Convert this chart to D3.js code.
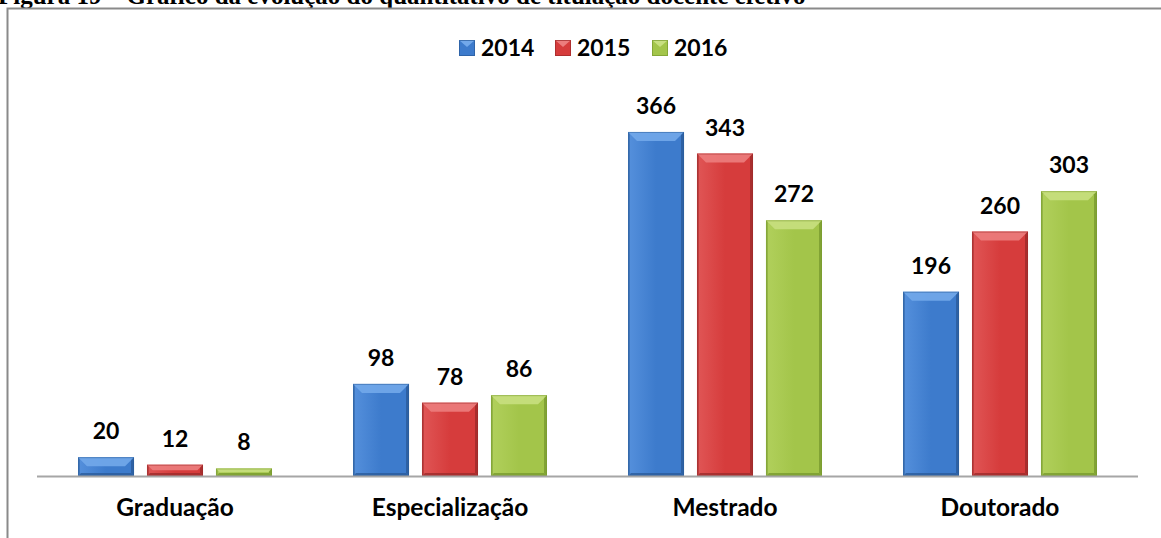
<!DOCTYPE html>
<html><head><meta charset="utf-8">
<script src="https://cdn.jsdelivr.net/npm/d3@7"></script>
<style>body{margin:0;background:#fff;} svg{display:block;}</style>
</head><body>
<svg id="c" width="1161" height="538"></svg>
<script>
const titleText = "Figura 19 – Gráfico da evolução do quantitativo de titulação docente efetivo";
const categories = ["Graduação", "Especialização", "Mestrado", "Doutorado"];
const seriesNames = ["2014", "2015", "2016"];
const values2014 = [20, 98, 366, 196];
const values2015 = [12, 78, 343, 260];
const values2016 = [8, 86, 272, 303];
const seriesValues = [values2014, values2015, values2016];
const palette = [
  {main:"#3d7bcc", light:"#72a8ea", dark:"#2a5b9a", side:"#5590dc"},
  {main:"#d63c3c", light:"#ec7d7d", dark:"#9c2a2a", side:"#e05656"},
  {main:"#a3c54a", light:"#c8df80", dark:"#789a2e", side:"#b1d05c"}
];

const svg = d3.select("#c");
const FONT = "Lato, 'Open Sans', sans-serif";

// clipped title at top
svg.append("text").attr("x", -2).attr("y", 4)
  .attr("font-family", "'Liberation Serif', 'Times New Roman', serif")
  .attr("font-weight", "bold").attr("font-size", 25).attr("fill", "#000")
  .text(titleText);

// frame
svg.append("path").attr("d", "M7.5,540 L7.5,8.5 L1165,8.5")
  .attr("fill", "none").attr("stroke", "#8a8a8a").attr("stroke-width", 2);

const x0 = d3.scaleBand().domain(categories).range([37.5, 1137.5]).paddingInner(0).paddingOuter(0);
const x1 = d3.scaleBand().domain(seriesNames).range([-97, 97]).paddingInner(0.188).paddingOuter(0);
const y = d3.scaleLinear().domain([0, 400]).range([476, 100]);

// gradients
const defs = svg.append("defs");
palette.forEach((p, i) => {
  const g = defs.append("linearGradient").attr("id", "g" + i).attr("x1", "0").attr("x2", "1").attr("y1", "0").attr("y2", "0");
  g.append("stop").attr("offset", "0").attr("stop-color", p.side);
  g.append("stop").attr("offset", "0.5").attr("stop-color", p.main);
  g.append("stop").attr("offset", "1").attr("stop-color", p.main);
});

const data = [];
categories.forEach((c, ci) => seriesNames.forEach((s, si) => data.push({c, s, si, v: seriesValues[si][ci]})));

const bars = svg.append("g").selectAll("g").data(data).join("g");
bars.each(function(d) {
  const g = d3.select(this);
  const bx = x0(d.c) + x0.bandwidth() / 2 + x1(d.s);
  const bw = x1.bandwidth();
  const top = y(d.v), bot = y(0);
  const h = bot - top;
  const b = Math.min(9, h / 2);
  const p = palette[d.si];
  g.append("rect").attr("x", bx).attr("y", top).attr("width", bw).attr("height", h).attr("fill", `url(#g${d.si})`);
  g.append("path").attr("d", `M${bx},${top} L${bx+bw},${top} L${bx+bw-b},${top+b} L${bx+b},${top+b} Z`).attr("fill", p.light).attr("opacity", 0.9);
  g.append("path").attr("d", `M${bx+bw},${top} L${bx+bw},${bot} L${bx+bw-3},${bot-3} L${bx+bw-3},${top+3} Z`).attr("fill", p.dark).attr("opacity", 0.8);
  g.append("path").attr("d", `M${bx},${bot} L${bx+bw},${bot} L${bx+bw-3},${bot-3} L${bx+3},${bot-3} Z`).attr("fill", p.dark).attr("opacity", 0.8);
  g.append("path").attr("d", `M${bx},${top} L${bx+2},${top+2} L${bx+2},${bot-2} L${bx},${bot} Z`).attr("fill", p.dark).attr("opacity", 0.5);
  g.append("rect").attr("x", bx + 0.5).attr("y", top + 0.5).attr("width", bw - 1).attr("height", Math.max(0, h - 1))
    .attr("fill", "none").attr("stroke", p.dark).attr("stroke-opacity", 0.5).attr("stroke-width", 1);
  g.append("text").attr("x", bx + bw / 2).attr("y", top - 18).attr("text-anchor", "middle")
    .attr("font-family", FONT).attr("font-weight", "bold").attr("font-size", 23).attr("fill", "#000")
    .text(d.v);
});

// axis line
svg.append("line").attr("x1", 37).attr("x2", 1138).attr("y1", 476.5).attr("y2", 476.5)
  .attr("stroke", "#a6a6a6").attr("stroke-width", 2);

// category labels
const xAxis = d3.axisBottom(x0).tickSize(0).tickPadding(0);
const ax = svg.append("g").attr("transform", "translate(0,476)").call(xAxis);
ax.select(".domain").remove();
ax.selectAll("text").attr("y", 40).attr("dy", null)
  .attr("font-family", FONT).attr("font-weight", "bold").attr("font-size", 24.5).attr("fill", "#000");

// legend
const legendX = [459, 555, 652];
const lg = svg.append("g").selectAll("g").data(seriesNames).join("g")
  .attr("transform", (d, i) => `translate(${legendX[i]},40)`);
lg.append("rect").attr("width", 16).attr("height", 16).attr("fill", (d, i) => palette[i].main);
lg.append("path").attr("d", "M0,0 L16,0 L8,7 Z").attr("fill", (d, i) => palette[i].light);
lg.append("rect").attr("x", 0.5).attr("y", 0.5).attr("width", 15).attr("height", 15).attr("fill", "none").attr("stroke", (d, i) => palette[i].dark).attr("stroke-opacity", 0.7);
lg.append("text").attr("x", 22).attr("y", 16).attr("font-family", FONT).attr("font-weight", "bold").attr("font-size", 23).attr("fill", "#000").text(d => d);
</script>
</body></html>
